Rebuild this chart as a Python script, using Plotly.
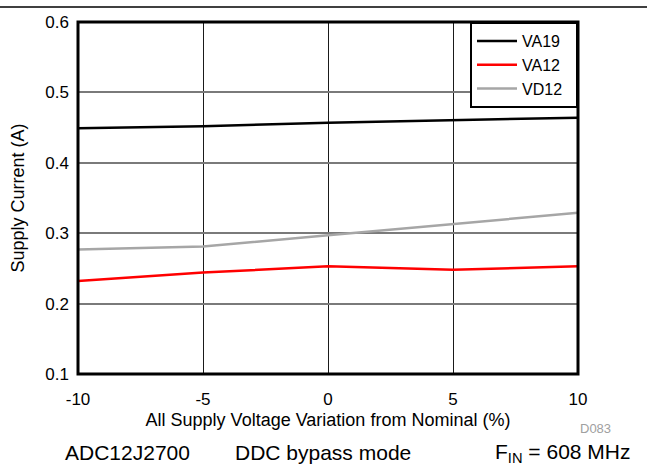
import plotly.graph_objects as go

x_pct = [-10, -5, 0, 5, 10]
va19 = [0.449, 0.452, 0.457, 0.460, 0.464]
va12 = [0.232, 0.244, 0.253, 0.248, 0.253]
vd12 = [0.277, 0.281, 0.297, 0.313, 0.329]
series_names = ["VA19", "VA12", "VD12"]
series_colors = ["#000000", "#ff0000", "#a6a6a6"]
x_ticks = [-10, -5, 0, 5, 10]
y_ticks = [0.1, 0.2, 0.3, 0.4, 0.5, 0.6]

W, H = 647, 469
L, R, T, B = 78, 578, 22, 374
PW, PH = R - L, B - T


def px(x):
    return (x - L) / PW


def py(y):
    return (B - y) / PH


fig = go.Figure()
for name, ys, col in zip(series_names, [va19, va12, vd12], series_colors):
    fig.add_trace(go.Scatter(x=x_pct, y=ys, mode="lines", name=name + "\u00a0\u00a0",
                             line=dict(color=col, width=2.5)))

font = "Arial, Liberation Sans, sans-serif"
fig.update_layout(
    width=W, height=H,
    margin=dict(l=L, r=W - R, t=T, b=H - B, pad=0),
    paper_bgcolor="white", plot_bgcolor="white",
    font=dict(family=font, size=17, color="black"),
    showlegend=True,
    legend=dict(x=1, y=1, xanchor="right", yanchor="top",
                bgcolor="white", bordercolor="black", borderwidth=2,
                font=dict(size=16), tracegroupgap=0, itemwidth=40),
    xaxis=dict(range=[-10, 10], tickvals=x_ticks, ticktext=[str(v) for v in x_ticks],
               showgrid=True, gridcolor="#1a1a1a", gridwidth=1, zeroline=False,
               ticks="", ticklabelstandoff=13, tickfont=dict(size=17),
               title=dict(text="All Supply Voltage Variation from Nominal (%)", standoff=5,
                          font=dict(size=18))),
    yaxis=dict(range=[0.1, 0.6], tickvals=y_ticks, ticktext=[f"{v:.1f}" for v in y_ticks],
               showgrid=True, gridcolor="#7a7a7a", gridwidth=1.5, zeroline=False,
               ticks="", ticklabelstandoff=8, tickfont=dict(size=17),
               title=dict(text="Supply Current (A)", standoff=16, font=dict(size=18))),
    shapes=[
        dict(type="rect", xref="paper", yref="paper", x0=0, x1=1, y0=0, y1=1,
             line=dict(color="black", width=3), layer="above"),
        dict(type="line", xref="paper", yref="paper",
             x0=px(0), x1=px(W), y0=py(7), y1=py(7),
             line=dict(color="black", width=1.5)),
    ],
    annotations=[
        dict(text="D083", xref="paper", yref="paper", x=px(613), y=py(428),
             xanchor="right", yanchor="middle", showarrow=False,
             font=dict(size=13, color="#a0a0a0")),
        dict(text="ADC12J2700", xref="paper", yref="paper", x=px(63), y=py(452.5),
             xanchor="left", yanchor="middle", showarrow=False, font=dict(size=21)),
        dict(text="DDC bypass mode", xref="paper", yref="paper", x=px(233), y=py(452.5),
             xanchor="left", yanchor="middle", showarrow=False, font=dict(size=21)),
        dict(text="F<sub>IN</sub> = 608 MHz", xref="paper", yref="paper", x=px(632), y=py(452.5),
             xanchor="right", yanchor="middle", showarrow=False, font=dict(size=21)),
    ],
)

fig.write_html("out.html", config={"displayModeBar": False},
               post_script="document.body.style.margin='0';document.body.style.overflow='hidden';")
